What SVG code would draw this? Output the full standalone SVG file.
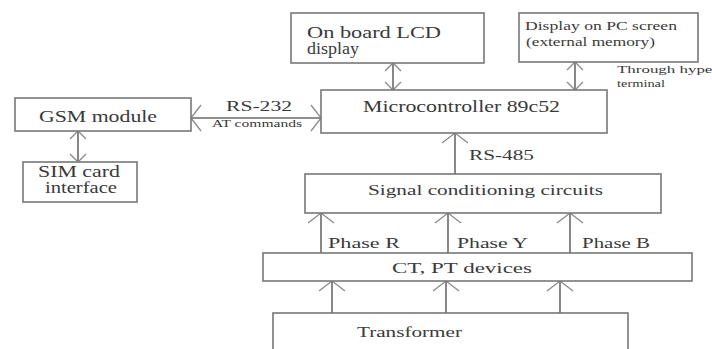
<svg xmlns="http://www.w3.org/2000/svg" width="712" height="349" viewBox="0 0 712 349" font-family="Liberation Serif, DejaVu Serif, serif">
  <style>
    .box { fill: #ffffff; stroke: #777777; stroke-width: 1.6; }
    .lbl { fill: #3a3a3a; }
    .wire { fill: none; stroke: #6a6a6a; stroke-width: 1.6; }
  </style>
  <defs>
    <!-- open V arrowheads -->
    <marker id="headS" viewBox="-12 -10 14 20" refX="0" refY="0" markerWidth="14" markerHeight="20" markerUnits="userSpaceOnUse" orient="auto-start-reverse">
      <path d="M-8,-8 L0,0 L-8,8" fill="none" stroke="#8a8a8a" stroke-width="1.3"/>
    </marker>
    <marker id="headL" viewBox="-14 -15 16 30" refX="0" refY="0" markerWidth="16" markerHeight="30" markerUnits="userSpaceOnUse" orient="auto-start-reverse">
      <path d="M-10,-13 L0,0 L-10,13" fill="none" stroke="#8a8a8a" stroke-width="1.3"/>
    </marker>
  </defs>
  <rect width="712" height="349" fill="#ffffff"/>

  <g id="connectors">
    <line class="wire" x1="393" y1="63" x2="393" y2="90" marker-start="url(#headS)" marker-end="url(#headS)"/>
    <line class="wire" x1="575" y1="62" x2="575" y2="90" marker-start="url(#headS)" marker-end="url(#headS)"/>
    <line class="wire" x1="191" y1="118" x2="321" y2="118" marker-start="url(#headL)" marker-end="url(#headL)"/>
    <line class="wire" x1="78" y1="131" x2="78" y2="162" marker-start="url(#headS)" marker-end="url(#headS)"/>
    <line class="wire" x1="455" y1="174" x2="455" y2="133" marker-end="url(#headL)"/>
    <line class="wire" x1="321" y1="253" x2="321" y2="213" marker-end="url(#headL)"/>
    <line class="wire" x1="448" y1="253" x2="448" y2="213" marker-end="url(#headL)"/>
    <line class="wire" x1="570" y1="253" x2="570" y2="213" marker-end="url(#headL)"/>
    <line class="wire" x1="332" y1="313" x2="332" y2="281" marker-end="url(#headL)"/>
    <line class="wire" x1="446" y1="313" x2="446" y2="281" marker-end="url(#headL)"/>
    <line class="wire" x1="560" y1="313" x2="560" y2="281" marker-end="url(#headL)"/>
    <text class="lbl" x="226" y="111" font-size="15" textLength="66" lengthAdjust="spacingAndGlyphs">RS-232</text>
    <text class="lbl" x="212" y="127" font-size="10" textLength="90" lengthAdjust="spacingAndGlyphs">AT commands</text>
    <text class="lbl" x="617" y="73" font-size="11" textLength="101" lengthAdjust="spacingAndGlyphs">Through hyper</text>
    <text class="lbl" x="617" y="87" font-size="11" textLength="48" lengthAdjust="spacingAndGlyphs">terminal</text>
    <text class="lbl" x="469" y="160" font-size="15" textLength="65" lengthAdjust="spacingAndGlyphs">RS-485</text>
    <text class="lbl" x="328" y="248" font-size="15" textLength="72" lengthAdjust="spacingAndGlyphs">Phase R</text>
    <text class="lbl" x="457" y="248" font-size="15" textLength="71" lengthAdjust="spacingAndGlyphs">Phase Y</text>
    <text class="lbl" x="582" y="248" font-size="15" textLength="68" lengthAdjust="spacingAndGlyphs">Phase B</text>
  </g>

  <g id="lcd">
    <rect class="box" x="291" y="13" width="193" height="50"/>
    <text class="lbl" x="307" y="38" font-size="16" textLength="134" lengthAdjust="spacingAndGlyphs">On board LCD</text>
    <text class="lbl" x="307" y="54" font-size="16" textLength="52" lengthAdjust="spacingAndGlyphs">display</text>
  </g>

  <g id="pc-display">
    <rect class="box" x="519" y="13" width="179" height="49"/>
    <text class="lbl" x="525" y="30" font-size="12.5" textLength="152" lengthAdjust="spacingAndGlyphs">Display on PC screen</text>
    <text class="lbl" x="526" y="46" font-size="12.5" textLength="129" lengthAdjust="spacingAndGlyphs">(external memory)</text>
  </g>

  <g id="microcontroller">
    <rect class="box" x="321" y="90" width="286" height="43"/>
    <text class="lbl" x="363" y="112" font-size="16.5" textLength="197" lengthAdjust="spacingAndGlyphs">Microcontroller 89c52</text>
  </g>

  <g id="gsm">
    <rect class="box" x="15" y="98" width="176" height="33"/>
    <text class="lbl" x="39" y="122" font-size="16" textLength="118" lengthAdjust="spacingAndGlyphs">GSM module</text>
  </g>

  <g id="sim">
    <rect class="box" x="23" y="162" width="114" height="40"/>
    <text class="lbl" x="38" y="177" font-size="16" textLength="82" lengthAdjust="spacingAndGlyphs">SIM card</text>
    <text class="lbl" x="45" y="193" font-size="16" textLength="72" lengthAdjust="spacingAndGlyphs">interface</text>
  </g>

  <g id="signal-conditioning">
    <rect class="box" x="305" y="174" width="356" height="39"/>
    <text class="lbl" x="368" y="195" font-size="15.5" textLength="235" lengthAdjust="spacingAndGlyphs">Signal conditioning circuits</text>
  </g>

  <g id="ct-pt">
    <rect class="box" x="263" y="253" width="429" height="28"/>
    <text class="lbl" x="392" y="273" font-size="15.5" textLength="140" lengthAdjust="spacingAndGlyphs">CT, PT devices</text>
  </g>

  <g id="transformer">
    <rect class="box" x="273" y="313" width="355" height="47"/>
    <text class="lbl" x="357" y="337" font-size="15.5" textLength="105" lengthAdjust="spacingAndGlyphs">Transformer</text>
  </g>
</svg>
